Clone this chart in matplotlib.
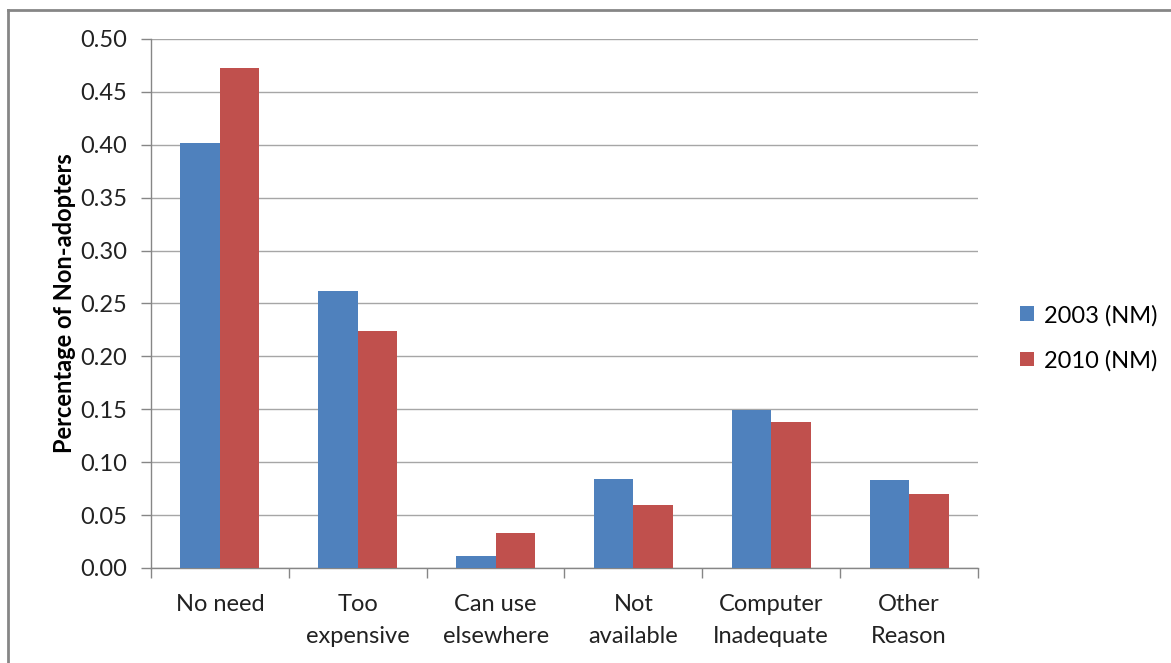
import matplotlib.pyplot as plt
import numpy as np
from matplotlib.lines import Line2D

categories = ['No need', 'Too\nexpensive', 'Can use\nelsewhere', 'Not\navailable', 'Computer\nInadequate', 'Other\nReason']
values2003 = [0.402, 0.262, 0.011, 0.084, 0.149, 0.083]
values2010 = [0.473, 0.224, 0.033, 0.060, 0.138, 0.070]
series = ['2003 (NM)', '2010 (NM)']

plt.rcParams['font.family'] = ['Lato', 'DejaVu Sans']

fig = plt.figure(figsize=(11.71, 6.63), dpi=100)
ax = fig.add_axes([151 / 1171, 1 - 568 / 663, (978 - 151) / 1171, (568 - 39) / 663])

x = np.arange(len(categories))
w = 0.286
ax.bar(x - w / 2, values2003, w, color='#4F81BD', label=series[0], zorder=3)
ax.bar(x + w / 2, values2010, w, color='#C0504D', label=series[1], zorder=3)

ax.set_xlim(-0.5, len(categories) - 0.5)
ax.set_ylim(0, 0.5)
ax.set_yticks(np.arange(0, 0.51, 0.05))
ax.set_yticklabels(['%.2f' % v for v in np.arange(0, 0.51, 0.05)], fontsize=17, color='#222222')
ax.yaxis.grid(True, color='#A6A6A6', linewidth=1, zorder=0)

# category labels centered, tick marks between categories
ax.set_xticks(x)
ax.set_xticklabels(categories, fontsize=17, color='#222222', linespacing=1.6)
ax.tick_params(axis='x', length=0, pad=19)
ax.set_xticks(np.arange(-0.5, len(categories)), minor=True)
ax.tick_params(axis='x', which='minor', length=7, color='#868686', width=1)
ax.tick_params(axis='y', length=7, color='#868686', width=1, pad=10)

for s in ['top', 'right']:
    ax.spines[s].set_visible(False)
for s in ['left', 'bottom']:
    ax.spines[s].set_color('#868686')
    ax.spines[s].set_linewidth(1)

ax.set_ylabel('Percentage of Non-adopters', fontsize=17, fontweight='bold', labelpad=3)

fig.legend(loc='center left', bbox_to_anchor=(999 / 1171, 1 - 338 / 663), frameon=False,
           fontsize=17, handlelength=0.6, handleheight=0.6, handletextpad=0.4, labelspacing=1.0)

# outer chart border
fig.add_artist(Line2D([8 / 1171, 1], [1 - 10 / 663] * 2, color='#868686', linewidth=2, transform=fig.transFigure))
fig.add_artist(Line2D([8 / 1171] * 2, [0, 1 - 10 / 663], color='#868686', linewidth=2, transform=fig.transFigure))

plt.savefig('out.png', dpi=100)
